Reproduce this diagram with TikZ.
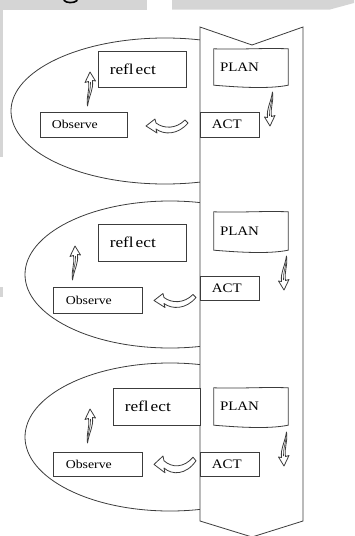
\documentclass[tikz,border=0pt]{standalone}
\usepackage{fontspec}
\setmainfont{Liberation Serif}
\newfontfamily\lblfont[FakeStretch=1.15]{Liberation Serif}
\definecolor{bgg}{RGB}{213,213,213}
\definecolor{linec}{RGB}{60,60,60}
\begin{document}
\begin{tikzpicture}[x=1pt,y=-1pt,
  outline/.style={draw=linec, line width=0.8pt},
  box/.style={outline, fill=white, rectangle, inner sep=0pt},
  planbox/.style={rectangle, inner sep=0pt, minimum width=74pt},
  arrowline/.style={draw=linec, line width=0.8pt, fill=white, line join=round},
  bigtxt/.style={inner sep=0pt, font=\lblfont\fontsize{13}{13}\selectfont, text=black},
  refltxt/.style={inner sep=0pt, font=\lblfont\fontsize{15}{15}\selectfont, text=black},
  smalltxt/.style={inner sep=0pt, font=\lblfont\fontsize{12}{12}\selectfont, text=black},
  upsq/.pic={\draw[arrowline] (7,0) -- (12.5,9) -- (9.5,8.5)
      .. controls (10.5,18) and (6.5,22) .. (4.5,34)
      .. controls (3,25) and (7,18) .. (5.5,9.5) -- (2,10.5) -- cycle;
      \draw[draw=linec, line width=0.6pt] (7.5,10) .. controls (8,17) and (5.5,22) .. (5,28);},
  uarr/.pic={\draw[arrowline] (0,7) -- (9,0) -- (10,4)
      .. controls (18,10) and (30,10) .. (39,1) -- (42,4)
      .. controls (32,16) and (18,16) .. (10,10) -- (11,14) -- cycle;}
]
\useasboundingbox (0,0) rectangle (354,536);
% screenshot remains
\fill[bgg] (0,0) rectangle (147,9.5);
\fill[bgg] (172,0) -- (354,0) -- (354,3) -- (330,9.5) -- (172,9.5) -- cycle;
\fill[bgg] (0,9.5) rectangle (3,157);
\fill[bgg] (0,287) rectangle (3,297);
\draw[line width=1.6pt, line cap=round] (64,0.3) .. controls (66,3.2) and (74,3.4) .. (77,0.6);

% loops
\begin{scope}
\clip (0,0) rectangle (200,536);
\draw[outline] (165,111) ellipse [x radius=154, y radius=73];
\draw[outline] (170,274.5) ellipse [x radius=145, y radius=73.5];
\draw[outline] (170,437) ellipse [x radius=145, y radius=74];
\end{scope}

% band
\draw[outline, fill=white] (200,27) -- (252,45) -- (303,27) -- (303,521)
  -- (252,537) -- (200,521) -- cycle;

% ---- cycle 1
\node[box, minimum width=88pt, minimum height=36pt] (r1) at (142,69) {};
\node[refltxt, anchor=west] (r1t) at ([xshift=12pt]r1.west) {refl\kern2pt ect};
\node[planbox, minimum height=36pt] (p1) at (251,67) {};
\node[box, minimum width=87pt, minimum height=25pt] (o1) at (83.5,124.5) {};
\node[smalltxt, anchor=west] (o1t) at ([xshift=12pt]o1.west) {Observe};
\node[box, minimum width=59pt, minimum height=25pt] (a1) at (229.5,124.5) {};
\node[bigtxt, anchor=west] (a1t) at ([xshift=12pt]a1.west) {ACT};

% ---- cycle 2
\node[planbox, minimum height=38pt] (p2) at (251,231) {};
\node[box, minimum width=88pt, minimum height=37pt] (r2) at (142,242.5) {};
\node[refltxt, anchor=west] (r2t) at ([xshift=12pt]r2.west) {refl\kern2pt ect};
\node[box, minimum width=59pt, minimum height=24pt] (a2) at (229.5,288) {};
\node[bigtxt, anchor=west] (a2t) at ([xshift=12pt]a2.west) {ACT};
\node[box, minimum width=89pt, minimum height=26pt] (o2) at (97.5,300) {};
\node[smalltxt, anchor=west] (o2t) at ([xshift=13pt]o2.west) {Observe};

% ---- cycle 3
\node[box, minimum width=87pt, minimum height=37pt] (r3) at (156.5,406.5) {};
\node[refltxt, anchor=west] (r3t) at ([xshift=12pt]r3.west) {refl\kern2pt ect};
\node[planbox, minimum height=37pt] (p3) at (251,406.5) {};
\node[box, minimum width=89pt, minimum height=24pt] (o3) at (97.5,464) {};
\node[smalltxt, anchor=west] (o3t) at ([xshift=13pt]o3.west) {Observe};
\node[box, minimum width=59pt, minimum height=24pt] (a3) at (229.5,464) {};
\node[bigtxt, anchor=west] (a3t) at ([xshift=12pt]a3.west) {ACT};

% wavy PLAN boxes
\foreach \p in {p1,p2,p3}{
  \draw[outline, fill=white] (\p.north west)
     .. controls +(25,1) and +(-25,-1) .. (\p.north east)
     -- (\p.south east)
     .. controls +(-20,4) and +(25,2) .. (\p.south west) -- cycle;
}
\node[bigtxt, anchor=west] (p1t) at ([xshift=6pt]p1.west) {PLAN};
\node[bigtxt, anchor=west] (p2t) at ([xshift=6pt]p2.west) {PLAN};
\node[bigtxt, anchor=west] (p3t) at ([xshift=6pt]p3.west) {PLAN};

% arrows: observe -> reflect
\pic at (83,72) {upsq};
\pic at (68,246) {upsq};
\pic at (83,409) {upsq};
% plan -> act
\pic[rotate=180] at (277,126) {upsq};
\pic[rotate=180] at (291,290) {upsq};
\pic[rotate=180] at (291,466) {upsq};
% act -> observe
\pic at (146,119) {uarr};
\pic at (154,293.5) {uarr};
\pic[yscale=1.2] at (154,456) {uarr};
\end{tikzpicture}
\end{document}
